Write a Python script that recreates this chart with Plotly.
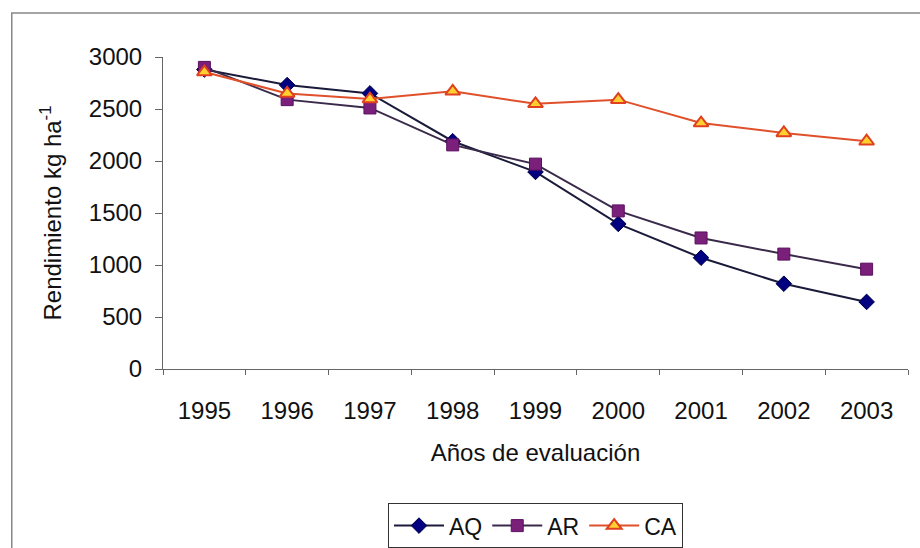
import plotly.graph_objects as go

years = ["1995", "1996", "1997", "1998", "1999", "2000", "2001", "2002", "2003"]
aq = [2880, 2730, 2650, 2190, 1895, 1395, 1070, 820, 645]
ar = [2900, 2590, 2510, 2155, 1970, 1520, 1260, 1105, 960]
ca = [2855, 2650, 2595, 2670, 2550, 2590, 2365, 2270, 2190]
y_ticks = [0, 500, 1000, 1500, 2000, 2500, 3000]

FONT = "Liberation Sans, Arial, sans-serif"

fig = go.Figure()
fig.add_trace(go.Scatter(x=years, y=aq, name="AQ", mode="lines+markers",
                         line=dict(color="#1a1a3a", width=2),
                         marker=dict(symbol="diamond", size=12, color="#000080",
                                     line=dict(color="#000040", width=1))))
fig.add_trace(go.Scatter(x=years, y=ar, name="AR", mode="lines+markers",
                         line=dict(color="#3a2a4a", width=2),
                         marker=dict(symbol="square", size=12, color="#7a1f7a",
                                     line=dict(color="#5a1060", width=1))))
fig.add_trace(go.Scatter(x=years, y=ca, name="CA", mode="lines+markers",
                         line=dict(color="#e0502a", width=2),
                         marker=dict(symbol="triangle-up", size=13, color="#ffd030",
                                     line=dict(color="#e04020", width=2))))

fig.update_layout(
    width=920, height=548,
    margin=dict(l=163, r=12, t=57, b=179, autoexpand=False),
    paper_bgcolor="white", plot_bgcolor="white",
    font=dict(family=FONT, size=23, color="#111111"),
    showlegend=True,
    legend=dict(orientation="h", x=0.5, xanchor="center", y=-0.43, yanchor="top",
                bordercolor="#333333", borderwidth=1, bgcolor="white",
                font=dict(family=FONT, size=23, color="#111111"),
                itemwidth=50, tracegroupgap=0),
    xaxis=dict(type="category", range=[-0.5, 8.5], tickson="boundaries",
               automargin=False,
               showline=True, linecolor="#666666", linewidth=1,
               ticks="outside", ticklen=5, tickcolor="#666666",
               showgrid=False, zeroline=False, ticklabelstandoff=20,
               tickfont=dict(family=FONT, size=24),
               title=dict(text="Años de evaluación", font=dict(family=FONT, size=24),
                          standoff=21)),
    yaxis=dict(range=[0, 3000], tickvals=y_ticks, ticktext=[str(v) for v in y_ticks],
               automargin=False,
               showline=True, linecolor="#666666", linewidth=1,
               ticks="outside", ticklen=7, tickcolor="#666666",
               showgrid=False, zeroline=False, ticklabelstandoff=8,
               tickfont=dict(family=FONT, size=24),
               title=dict(text="Rendimiento kg ha<sup>-1</sup>", font=dict(family=FONT, size=24),
                          standoff=20)),
    shapes=[dict(type="rect", xref="paper", yref="paper",
                 x0=-0.203, x1=1.05, y0=-0.7, y1=1.141,
                 line=dict(color="#888888", width=1.5), layer="below")],
)

fig.write_html("out.html")
